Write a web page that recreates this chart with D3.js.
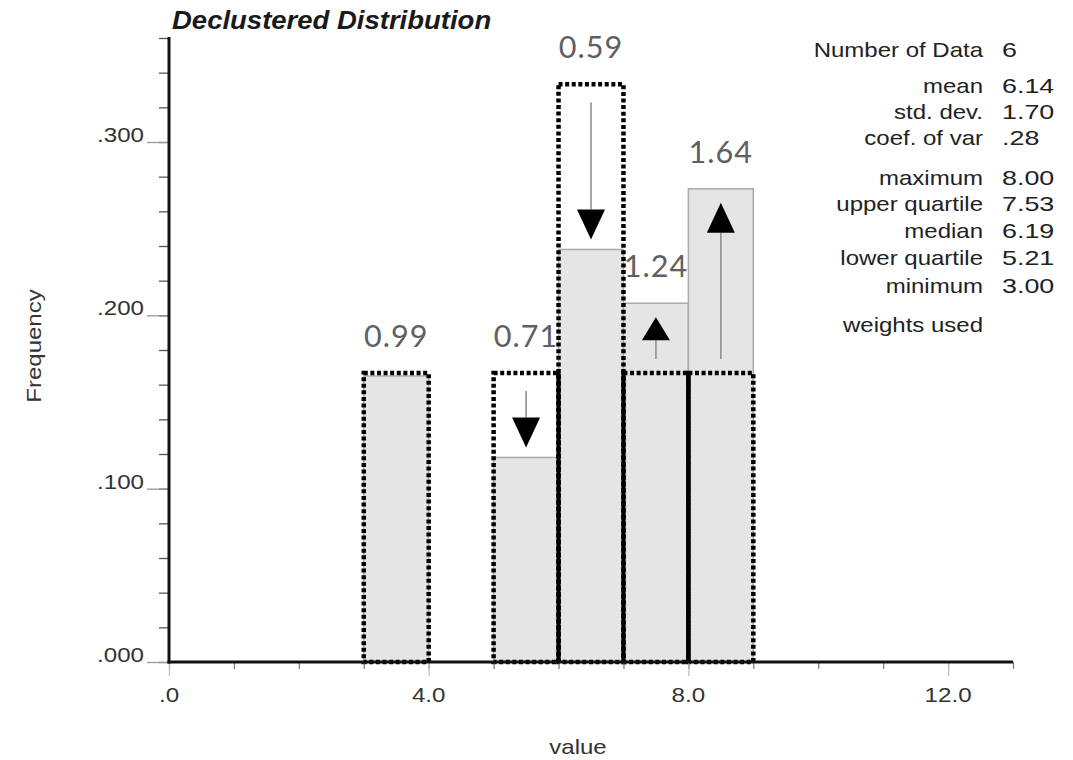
<!DOCTYPE html>
<html><head><meta charset="utf-8">
<script src="https://cdn.jsdelivr.net/npm/d3@7"></script>
<style>body{margin:0;background:#fff}</style>
</head><body><svg id="c" width="1073" height="760"></svg>
<script>
// ---- data ----
const binStarts = [3, 5, 6, 7, 8];
const binEnds = [4, 6, 7, 8, 9];
const naiveCounts = [1, 1, 2, 1, 1];
const nData = 6;
const declFreq = [0.165, 0.118, 0.238, 0.207, 0.273];
const weightLabels = ["0.99", "0.71", "0.59", "1.24", "1.64"];
const xTicksMajor = [0, 4, 8, 12];
const xTickLabels = [".0", "4.0", "8.0", "12.0"];
const yTicksMajor = [0, 0.1, 0.2, 0.3];
const yTickLabels = [".000", ".100", ".200", ".300"];
const statNames = ["Number of Data", "mean", "std. dev.", "coef. of var", "maximum", "upper quartile", "median", "lower quartile", "minimum", "weights used"];
const statValues = ["6", "6.14", "1.70", ".28", "8.00", "7.53", "6.19", "5.21", "3.00", ""];
const titleText = "Declustered Distribution";
const xLabel = "value";
const yLabel = "Frequency";

// ---- layout ----
const svg = d3.select("#c");
const x = d3.scaleLinear([0, 13], [169, 1013]);
const y = d3.scaleLinear([0, 0.36], [662, 38]);
const SANS = "'Liberation Sans', Arial, Helvetica, sans-serif";

function stext(parent, px, py, str, o = {}) {
  const g = parent.append("g")
    .attr("transform", `translate(${px},${py}) rotate(${o.rotate || 0}) scale(${o.sx || 1.2},1)`);
  return g.append("text")
    .attr("text-anchor", o.anchor || "start")
    .style("font-family", o.family || SANS)
    .style("font-size", (o.size || 20) + "px")
    .style("font-weight", o.weight || "normal")
    .style("font-style", o.style || "normal")
    .style("letter-spacing", o.ls || "0px")
    .attr("fill", o.fill || "#222")
    .text(str);
}

const bins = binStarts.map((s, i) => ({
  x0: s, x1: binEnds[i], naive: naiveCounts[i] / nData, decl: declFreq[i], label: weightLabels[i]
}));

// declustered (grey) bars
svg.append("g").selectAll("rect").data(bins).join("rect")
  .attr("x", d => x(d.x0)).attr("width", d => x(d.x1) - x(d.x0))
  .attr("y", d => y(d.decl)).attr("height", d => y(0) - y(d.decl))
  .attr("fill", "#e5e5e5").attr("stroke", "#aaaaaa").attr("stroke-width", 1.5);

// naive (dotted) bars
svg.append("g").selectAll("rect").data(bins).join("rect")
  .attr("x", d => x(d.x0)).attr("width", d => x(d.x1) - x(d.x0))
  .attr("y", d => y(d.naive)).attr("height", d => y(0) - y(d.naive))
  .attr("fill", "none").attr("stroke", "#000").attr("stroke-width", 4.5)
  .attr("stroke-dasharray", "4 2.6");

// shared edges (overlapping dotted edges read as solid)
const shared = [];
bins.forEach((d, i) => {
  if (i < bins.length - 1 && d.x1 === bins[i + 1].x0)
    shared.push({ xv: d.x1, h: Math.min(d.naive, bins[i + 1].naive) });
});
svg.append("g").selectAll("line").data(shared).join("line")
  .attr("x1", d => x(d.xv)).attr("x2", d => x(d.xv))
  .attr("y1", y(0)).attr("y2", d => y(d.h))
  .attr("stroke", "#000").attr("stroke-width", 4);

// arrows
const arrows = bins.filter(d => Math.abs(d.decl - d.naive) > 0.01);
const ag = svg.append("g");
arrows.forEach(d => {
  const cx = (x(d.x0) + x(d.x1)) / 2;
  const down = d.decl < d.naive;
  const start = y(d.naive) + (down ? 18 : -14);
  const tip = y(d.decl) + (down ? -10 : 14);
  const len = Math.abs(tip - start);
  const hl = Math.min(30, len * 0.55);
  const hw = 14;
  const base = down ? tip - hl : tip + hl;
  ag.append("line").attr("x1", cx).attr("x2", cx).attr("y1", start).attr("y2", base)
    .attr("stroke", "#8a8a8a").attr("stroke-width", 1.5);
  ag.append("path")
    .attr("d", `M${cx},${tip} L${cx - hw},${base} L${cx + hw},${base} Z`)
    .attr("fill", "#000");
});

// axes: tick lines
const yMinor = d3.range(0, 0.3601, 0.02);
svg.append("g").attr("transform", `translate(${x(0)},0)`)
  .call(d3.axisLeft(y).tickValues(yMinor).tickSize(10).tickFormat(""))
  .call(g => g.select(".domain").remove())
  .call(g => g.selectAll("line").attr("stroke", "#555").attr("stroke-width", 1.3));
svg.append("g").attr("transform", `translate(${x(0)},0)`)
  .call(d3.axisLeft(y).tickValues(yTicksMajor).tickSize(22).tickFormat(""))
  .call(g => g.select(".domain").remove())
  .call(g => g.selectAll("line").attr("stroke", "#999").attr("stroke-width", 1.3));

const xMinor = d3.range(0, 13.01, 1);
svg.append("g").attr("transform", `translate(0,${y(0)})`)
  .call(d3.axisBottom(x).tickValues(xMinor).tickSize(7).tickFormat(""))
  .call(g => g.select(".domain").remove())
  .call(g => g.selectAll("line").attr("stroke", "#777").attr("stroke-width", 1.2));
svg.append("g").attr("transform", `translate(0,${y(0)})`)
  .call(d3.axisBottom(x).tickValues(xTicksMajor).tickSize(14).tickFormat(""))
  .call(g => g.select(".domain").remove())
  .call(g => g.selectAll("line").attr("stroke", "#bbb").attr("stroke-width", 1.2));

// axis lines
svg.append("line").attr("x1", x(0)).attr("x2", x(0)).attr("y1", y(0.36) - 1).attr("y2", y(0) + 1.5)
  .attr("stroke", "#111").attr("stroke-width", 3);
svg.append("line").attr("x1", x(0) - 1.5).attr("x2", x(13)).attr("y1", y(0)).attr("y2", y(0))
  .attr("stroke", "#111").attr("stroke-width", 3);

// tick labels
yTicksMajor.forEach((v, i) => stext(svg, 144, y(v), yTickLabels[i], { anchor: "end", size: 21, sx: 1.15, fill: "#333" }));
xTicksMajor.forEach((v, i) => stext(svg, x(v), 702, xTickLabels[i], { anchor: "middle", size: 21, sx: 1.15, fill: "#333" }));

// axis titles
stext(svg, 578, 754, xLabel, { anchor: "middle", size: 20, fill: "#333" });
stext(svg, 41, 346, yLabel, { anchor: "middle", size: 20, fill: "#333", rotate: -90 });

// title
stext(svg, 172, 29, titleText, { size: 25, weight: "bold", style: "italic", sx: 1.1, fill: "#1a1a1a" });

// weight labels
const LBL = "Lato, 'Open Sans', sans-serif";
bins.forEach(d => {
  stext(svg, (x(d.x0) + x(d.x1)) / 2, y(Math.max(d.naive, d.decl)) - 26, d.label,
    { anchor: "middle", size: 30, sx: 1.02, family: LBL, weight: 400, fill: "#606060", ls: "1px" });
});

// stats block
svg.append("defs").append("clipPath").attr("id", "valclip")
  .append("rect").attr("x", 990).attr("y", 0).attr("width", 68).attr("height", 400);
const valG = svg.append("g").attr("clip-path", "url(#valclip)");
const rowY = [57, 93, 119, 145, 185, 211, 238, 265, 293, 332];
statNames.forEach((s, i) => {
  stext(svg, 983, rowY[i], s, { anchor: "end", size: 20, fill: "#222" });
  stext(valG, 1002, rowY[i], statValues[i], { anchor: "start", size: 21, sx: 1.28, fill: "#222" });
});
</script>
</body></html>
